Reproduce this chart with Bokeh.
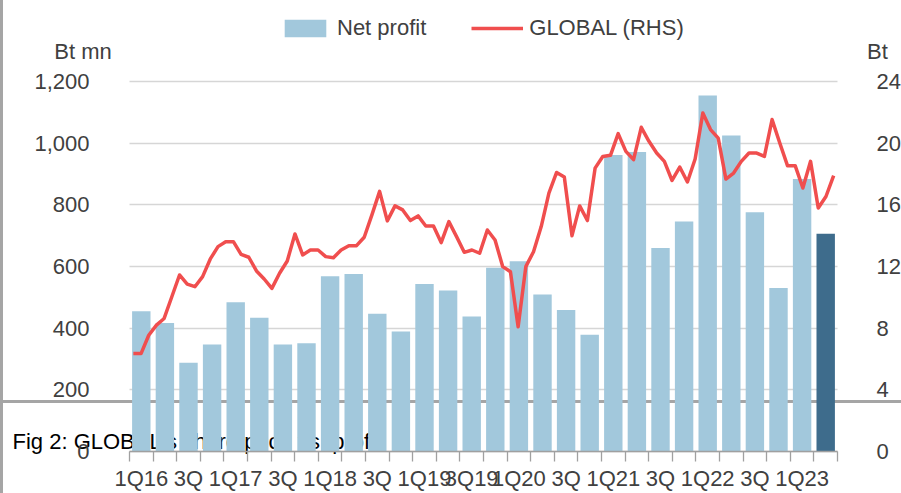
import numpy as np
from bokeh.plotting import figure
from bokeh.models import (Range1d, LinearAxis, FixedTicker, NumeralTickFormatter,
                          ColumnDataSource, Legend, LegendItem, Label)
from bokeh.embed import file_html
from bokeh.resources import INLINE

# ---------------- data ----------------
quarters = [f"{q}Q{y}" for y in range(16, 24) for q in range(1, 5)][:30]
net_profit = [455, 417, 288, 347, 484, 434, 347, 351, 568, 576,
              447, 389, 543, 522, 438, 596, 617, 509, 459, 379,
              962, 971, 660, 746, 1155, 1025, 776, 530, 884, 706]
# GLOBAL share price (Bt), roughly monthly, 1Q16 -> 2Q23
share_price = [6.35, 6.35, 7.54, 8.2, 8.63, 10.04, 11.45, 10.86, 10.69, 11.34,
               12.49, 13.29, 13.61, 13.61, 12.79, 12.6, 11.71, 11.19, 10.58, 11.56,
               12.36, 14.11, 12.75, 13.07, 13.07, 12.64, 12.57, 13.07, 13.35, 13.35,
               13.9, 15.35, 16.87, 14.96, 15.93, 15.67, 14.98, 15.28, 14.63, 14.63,
               13.55, 14.91, 13.94, 12.92, 13.07, 12.86, 14.37, 13.72, 11.99, 11.66,
               8.09, 11.99, 12.96, 14.59, 16.76, 18.1, 17.8, 14.0, 15.93, 14.98,
               18.38, 19.14, 19.21, 20.62, 19.47, 18.93, 21.03, 20.12, 19.36, 18.82,
               17.58, 18.45, 17.48, 18.97, 21.96, 20.88, 20.33, 17.67, 18.06, 18.82,
               19.36, 19.36, 19.14, 21.53, 20.01, 18.54, 18.54, 17.09, 18.82, 15.79,
               16.54, 17.89]
tick_labels = ["1Q16", "3Q", "1Q17", "3Q", "1Q18", "3Q", "1Q19", "3Q19",
               "1Q20", "3Q", "1Q21", "3Q", "1Q22", "3Q", "1Q23"]
left_ticks = [0, 200, 400, 600, 800, 1000, 1200]
right_ticks = [0, 4, 8, 12, 16, 20, 24]
LEFT_MAX, RIGHT_MAX = 1200, 24

# ---------------- styling ----------------
LIGHT = "#a2c8dc"
DARK = "#3e6c8c"
RED = "#f04e4e"
TXT = "#404040"
GRAYLINE = "#a5a5a5"
FONT = "Liberation Sans"

n_q = len(quarters)
xq = np.arange(n_q)
colors = [LIGHT] * (n_q - 1) + [DARK]
src = ColumnDataSource(dict(x=xq, profit=net_profit, color=colors, q=quarters))

n_p = len(share_price)
x_price = -0.5 + (np.arange(n_p) + 0.5) * n_q / n_p

# canvas / plotting-area geometry (px)
W, H = 901, 493
FL, FR, FT, FB = 129, 837, 81, 451
ux = (FR - FL) / n_q            # px per category
uy = (FB - FT) / LEFT_MAX       # px per Bt mn
uy2 = (FB - FT) / RIGHT_MAX     # px per Bt

x_rng = Range1d(-0.5 - FL / ux, -0.5 + (W - FL) / ux)
y_rng = Range1d(-(H - FB) / uy, LEFT_MAX + FT / uy)
y2_rng = Range1d(-(H - FB) / uy2, RIGHT_MAX + FT / uy2)


def dx(px):
    return -0.5 + (px - FL) / ux


def dy(py):
    return (FB - py) / uy


p = figure(width=W, height=H, x_range=x_rng, y_range=y_rng,
           output_backend="svg", toolbar_location=None,
           min_border_left=0, min_border_right=0, min_border_top=0, min_border_bottom=0,
           border_fill_color=None, background_fill_color=None, outline_line_color=None)
p.extra_y_ranges = {"price": y2_rng}

p.styles = {
    "background-image": f"linear-gradient({GRAYLINE},{GRAYLINE}), linear-gradient({GRAYLINE},{GRAYLINE})",
    "background-size": "100% 3px, 3px 100%",
    "background-position": "0 400px, 0 0",
    "background-repeat": "no-repeat",
}

# caption behind the bars
cap = Label(x=dx(12), y=dy(441), text="Fig 2: GLOBAL's share price vs. profit",
            text_font=FONT, text_font_size="22px", text_color="black",
            text_baseline="alphabetic", text_align="left", level="underlay")
p.add_layout(cap)

bars = p.vbar(x="x", top="profit", width=0.78, fill_color="color", line_color=None, source=src)
line = p.line(x_price, share_price, y_range_name="price", line_color=RED, line_width=3.5,
              line_join="round")

# x axis
xa = p.xaxis[0]
xa.fixed_location = 0
xa.bounds = (-0.5, n_q - 0.5)
xa.ticker = FixedTicker(ticks=list(range(0, n_q, 2)), minor_ticks=[i - 0.5 for i in range(n_q + 1)])
xa.major_label_overrides = {i * 2: lab for i, lab in enumerate(tick_labels)}
xa.major_tick_out = 0
xa.major_tick_in = 0
xa.minor_tick_out = 10
xa.minor_tick_in = 0
xa.minor_tick_line_color = "#a0a0a0"
xa.minor_tick_line_width = 1.3
xa.axis_line_color = "#a0a0a0"
xa.axis_line_width = 1.5
xa.major_label_standoff = 4
xa.major_label_text_font = FONT
xa.major_label_text_font_size = "22px"
xa.major_label_text_color = TXT

# left axis
ya = p.yaxis[0]
ya.fixed_location = -0.5
lt = FixedTicker(ticks=left_ticks)
ya.ticker = lt
ya.formatter = NumeralTickFormatter(format="0,0")
ya.axis_line_color = None
ya.major_tick_line_color = None
ya.minor_tick_line_color = None
ya.major_label_standoff = 34
ya.major_label_text_font = FONT
ya.major_label_text_font_size = "22px"
ya.major_label_text_color = TXT
ya.major_label_text_baseline = "alphabetic"

p.xgrid.visible = False
g = p.ygrid[0]
g.ticker = lt
g.grid_line_color = "#d6d6d6"
g.grid_line_width = 1.5
if "cross_bounds" in g.properties():
    g.cross_bounds = (-0.5, n_q - 0.5)
else:
    g.visible = False
    p.segment(x0=-0.5, x1=n_q - 0.5, y0=left_ticks, y1=left_ticks,
              line_color="#d6d6d6", line_width=1.5, level="underlay")

# right axis
ra = LinearAxis(y_range_name="price", ticker=FixedTicker(ticks=right_ticks),
                fixed_location=n_q - 0.5)
ra.axis_line_color = None
ra.major_tick_line_color = None
ra.minor_tick_line_color = None
ra.major_label_standoff = 33
ra.major_label_text_font = FONT
ra.major_label_text_font_size = "22px"
ra.major_label_text_color = TXT
ra.major_label_text_baseline = "alphabetic"
p.add_layout(ra, "right")

# axis unit labels
p.add_layout(Label(x=dx(82.5), y=dy(51), text="Bt mn", text_font=FONT, text_font_size="22px",
                   text_color=TXT, text_align="center", text_baseline="alphabetic"))
p.add_layout(Label(x=dx(877), y=dy(51), text="Bt", text_font=FONT, text_font_size="22px",
                   text_color=TXT, text_align="center", text_baseline="alphabetic"))

legend = Legend(items=[LegendItem(label="Net profit", renderers=[bars], index=0),
                       LegendItem(label="GLOBAL (RHS)", renderers=[line])],
                location=(279, H - 19 - 22), orientation="horizontal",
                glyph_width=52, glyph_height=22, label_height=22, label_standoff=6,
                spacing=45, padding=0, margin=0, border_line_color=None,
                background_fill_alpha=0, label_text_font=FONT, label_text_font_size="22px",
                label_text_color=TXT)
p.add_layout(legend)

open("out.html", "w").write(file_html(p, INLINE))
